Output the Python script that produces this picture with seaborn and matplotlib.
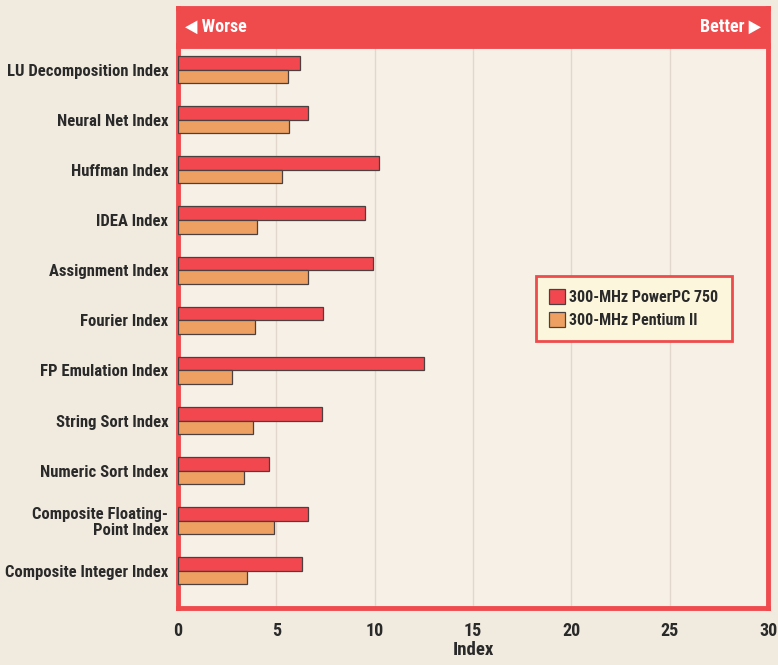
import pandas as pd
import seaborn as sns
import matplotlib.pyplot as plt

categories = [
    "LU Decomposition Index",
    "Neural Net Index",
    "Huffman Index",
    "IDEA Index",
    "Assignment Index",
    "Fourier Index",
    "FP Emulation Index",
    "String Sort Index",
    "Numeric Sort Index",
    "Composite Floating-\nPoint Index",
    "Composite Integer Index",
]
series = ["300-MHz PowerPC 750", "300-MHz Pentium II"]
powerpc = [6.2, 6.6, 10.2, 9.5, 9.9, 7.35, 12.5, 7.3, 4.65, 6.6, 6.3]
pentium = [5.6, 5.65, 5.3, 4.0, 6.6, 3.9, 2.75, 3.8, 3.35, 4.9, 3.5]
x_ticks = [0, 5, 10, 15, 20, 25, 30]

RED = "#ef4a4c"
BAR_RED = "#f2474f"
BAR_ORANGE = "#eea062"
BG = "#f1eadf"
PLOT_BG = "#f6f0e7"
INK = "#2a2a2a"

sns.set_theme(style="white")
plt.rcParams["font.family"] = ["Roboto Condensed", "DejaVu Sans"]
plt.rcParams["font.stretch"] = "condensed"
plt.rcParams["font.weight"] = "bold"

df = pd.DataFrame({
    "category": categories * 2,
    "value": powerpc + pentium,
    "series": [series[0]] * len(categories) + [series[1]] * len(categories),
})

fig = plt.figure(figsize=(7.78, 6.65), dpi=100, facecolor=BG)
W, H = 778, 665
ax = fig.add_axes([178 / W, 1 - 608 / H, 590 / W, 563 / H])
ax.set_facecolor(PLOT_BG)

sns.barplot(
    data=df, y="category", x="value", hue="series", orient="h",
    palette=[BAR_RED, BAR_ORANGE], saturation=1, width=0.54,
    edgecolor="#4a4040", linewidth=0.9, ax=ax, zorder=3,
)

ax.set_xlim(0, 30)
ax.set_ylim(10.74, -0.49)
ax.set_xticks(x_ticks)
ax.set_xticklabels([str(t) for t in x_ticks], fontsize=13, fontweight="bold", color=INK)
ax.tick_params(axis="both", length=0)
ax.tick_params(axis="x", pad=10)
ax.tick_params(axis="y", pad=7)
for lab in ax.get_yticklabels():
    lab.set_fontsize(12)
    lab.set_fontweight("bold")
    lab.set_color(INK)
    lab.set_linespacing(1.05)
ax.set_ylabel("")
ax.set_xlabel("Index", fontsize=13.5, fontweight="bold", color=INK, labelpad=1)

for t in x_ticks[1:-1]:
    ax.axvline(t, color="#e2d7ca", lw=1, zorder=1)

for s in ax.spines.values():
    s.set_color(RED)
    s.set_linewidth(3.5)

leg = ax.legend(
    loc="upper left", bbox_to_anchor=(0.606, 0.59), borderaxespad=0,
    frameon=True, facecolor="#fcf7dc", edgecolor=RED, fontsize=11.5,
    handlelength=1.0, handleheight=1.0, handletextpad=0.25, borderpad=0.85,
    labelspacing=0.45, fancybox=False, framealpha=1,
)
leg.get_frame().set_linewidth(2)
for txt in leg.get_texts():
    txt.set_fontweight("bold")
    txt.set_color(INK)

band = fig.add_axes([178 / W, 1 - 46 / H, 590 / W, 38 / H])
band.set_facecolor(RED)
band.set_xticks([])
band.set_yticks([])
for s in band.spines.values():
    s.set_color(RED)
    s.set_linewidth(3.5)
band.text(0.012, 0.5, "◀ Worse", color="white", fontsize=13, fontweight="bold",
          va="center", ha="left", transform=band.transAxes)
band.text(0.988, 0.5, "Better ▶", color="white", fontsize=13, fontweight="bold",
          va="center", ha="right", transform=band.transAxes)

fig.savefig("out.png", dpi=100, facecolor=BG)
